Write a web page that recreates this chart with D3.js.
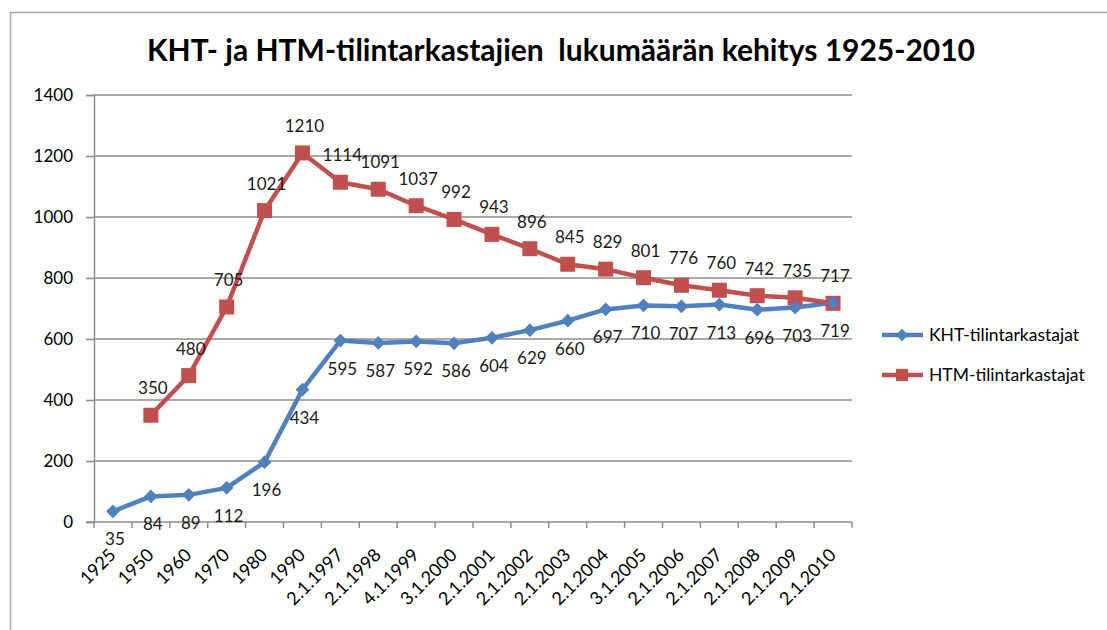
<!DOCTYPE html>
<html>
<head>
<meta charset="utf-8">
<script src="https://cdn.jsdelivr.net/npm/d3@7"></script>
<style>
  body { margin: 0; background: #fff; }
  svg { font-family: Lato, "Open Sans", sans-serif; }
</style>
</head>
<body>
<svg width="1107" height="630"></svg>
<script>
// Categories on the x axis
var categories = ['1925', '1950', '1960', '1970', '1980', '1990', '2.1.1997', '2.1.1998',
    '4.1.1999', '3.1.2000', '2.1.2001', '2.1.2002', '2.1.2003', '2.1.2004', '3.1.2005',
    '2.1.2006', '2.1.2007', '2.1.2008', '2.1.2009', '2.1.2010'];

// Series values
var khtValues = [35, 84, 89, 112, 196, 434, 595, 587, 592, 586, 604, 629, 660, 697, 710,
    707, 713, 696, 703, 719];
var htmValues = [null, 350, 480, 705, 1021, 1210, 1114, 1091, 1037, 992, 943, 896, 845,
    829, 801, 776, 760, 742, 735, 717];

var yTicks = [0, 200, 400, 600, 800, 1000, 1200, 1400];
var seriesNames = ['KHT-tilintarkastajat', 'HTM-tilintarkastajat'];
var seriesColors = ['#4F81BD', '#C0504D'];

var svg = d3.select('svg');

// chart border
svg.append('rect')
    .attr('x', 10.5).attr('y', 12.5)
    .attr('width', 1200).attr('height', 700)
    .attr('fill', 'none')
    .attr('stroke', '#a6a6a6')
    .attr('stroke-width', 1.5);

// title
svg.append('text')
    .attr('x', 561).attr('y', 61)
    .attr('text-anchor', 'middle')
    .attr('font-size', 30)
    .attr('font-weight', 'bold')
    .attr('fill', '#000')
    .attr('xml:space', 'preserve')
    .text('KHT- ja HTM-tilintarkastajien  lukumäärän kehitys 1925-2010');

var plot = {l: 94, r: 852, t: 95, b: 522};

var xScale = d3.scaleBand()
    .domain(categories)
    .range([plot.l, plot.r])
    .padding(0);

var yScale = d3.scaleLinear()
    .domain([0, 1400])
    .range([plot.b, plot.t]);

function cx(i) { return xScale(categories[i]) + xScale.bandwidth() / 2; }

// gridlines
svg.append('g')
    .selectAll('line')
    .data(yTicks.filter(function(d) { return d > 0; }))
    .enter().append('line')
    .attr('x1', plot.l).attr('x2', plot.r)
    .attr('y1', function(d) { return yScale(d); })
    .attr('y2', function(d) { return yScale(d); })
    .attr('stroke', '#8c8c8c')
    .attr('stroke-width', 1.5);

// y axis
var yAxisG = svg.append('g')
    .attr('transform', 'translate(' + plot.l + ',0)')
    .call(d3.axisLeft(yScale).tickValues(yTicks).tickFormat(d3.format('d'))
        .tickSize(8).tickPadding(13));
yAxisG.select('.domain').attr('stroke', '#8c8c8c').attr('stroke-width', 1.5);
yAxisG.selectAll('.tick line').attr('stroke', '#8c8c8c').attr('stroke-width', 1.5);
yAxisG.selectAll('.tick text')
    .attr('font-size', 17)
    .attr('fill', '#000')
    .attr('font-family', 'Lato, sans-serif');

// x axis: line and ticks at category boundaries
var xAxisG = svg.append('g');
xAxisG.append('line')
    .attr('x1', plot.l - 8).attr('x2', plot.r)
    .attr('y1', plot.b).attr('y2', plot.b)
    .attr('stroke', '#8c8c8c')
    .attr('stroke-width', 1.5);
xAxisG.selectAll('.xtick')
    .data(categories.concat(['end']))
    .enter().append('line')
    .attr('class', 'xtick')
    .attr('x1', function(d, i) { return plot.l + i * xScale.bandwidth(); })
    .attr('x2', function(d, i) { return plot.l + i * xScale.bandwidth(); })
    .attr('y1', plot.b).attr('y2', plot.b + 6)
    .attr('stroke', '#8c8c8c')
    .attr('stroke-width', 1.5);
xAxisG.selectAll('.xlabel')
    .data(categories)
    .enter().append('text')
    .attr('class', 'xlabel')
    .attr('text-anchor', 'end')
    .attr('font-size', 18)
    .attr('fill', '#000')
    .attr('transform', function(d, i) {
        return 'translate(' + (cx(i) + 4) + ',' + (plot.b + 34) + ') rotate(-45)';
    })
    .text(function(d) { return d; });

// lines
var line = d3.line()
    .defined(function(d) { return d != null; })
    .x(function(d, i) { return cx(i); })
    .y(function(d) { return yScale(d); });

[khtValues, htmValues].forEach(function(values, s) {
    svg.append('path')
        .datum(values)
        .attr('d', line)
        .attr('fill', 'none')
        .attr('stroke', seriesColors[s])
        .attr('stroke-width', 4.5)
        .attr('stroke-linejoin', 'round');
});

// points with their index, skipping missing values
var htmPoints = htmValues.map(function(v, i) { return {v: v, i: i}; })
    .filter(function(p) { return p.v != null; });
var khtPoints = khtValues.map(function(v, i) { return {v: v, i: i}; });

// markers
var diamond = d3.symbol().type(d3.symbolDiamond2).size(120);
var square = d3.symbol().type(d3.symbolSquare).size(225);

svg.append('g').selectAll('path')
    .data(htmPoints)
    .enter().append('path')
    .attr('d', square)
    .attr('fill', seriesColors[1])
    .attr('transform', function(p) { return 'translate(' + cx(p.i) + ',' + yScale(p.v) + ')'; });

svg.append('g').selectAll('path')
    .data(khtPoints)
    .enter().append('path')
    .attr('d', diamond)
    .attr('fill', seriesColors[0])
    .attr('transform', function(p) { return 'translate(' + cx(p.i) + ',' + yScale(p.v) + ')'; });

// data labels
svg.append('g').selectAll('text')
    .data(htmPoints)
    .enter().append('text')
    .attr('x', function(p) { return cx(p.i) + 2; })
    .attr('y', function(p) { return yScale(p.v) - 21; })
    .attr('text-anchor', 'middle')
    .attr('font-size', 17)
    .attr('fill', '#1a1a1a')
    .text(function(p) { return p.v; });

svg.append('g').selectAll('text')
    .data(khtPoints)
    .enter().append('text')
    .attr('x', function(p) { return cx(p.i) + 2; })
    .attr('y', function(p) { return yScale(p.v) + 34; })
    .attr('text-anchor', 'middle')
    .attr('font-size', 17)
    .attr('fill', '#1a1a1a')
    .text(function(p) { return p.v; });

// legend
var legend = svg.append('g');
seriesNames.forEach(function(name, s) {
    var ly = 335 + s * 40;
    legend.append('line')
        .attr('x1', 882).attr('x2', 923)
        .attr('y1', ly).attr('y2', ly)
        .attr('stroke', seriesColors[s])
        .attr('stroke-width', 4.5);
    legend.append('path')
        .attr('d', s === 0 ? d3.symbol().type(d3.symbolDiamond2).size(100)() : d3.symbol().type(d3.symbolSquare).size(150)())
        .attr('fill', seriesColors[s])
        .attr('transform', 'translate(' + 902 + ',' + ly + ')');
    legend.append('text')
        .attr('x', 929).attr('y', ly + 6)
        .attr('font-size', 17.5)
        .attr('fill', '#000')
        .text(name);
});
</script>
</body>
</html>
